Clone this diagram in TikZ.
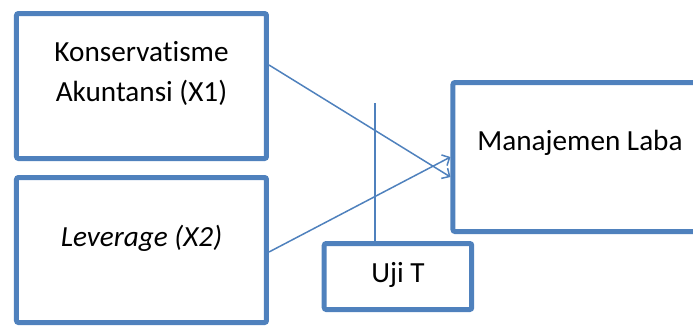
\documentclass[tikz,border=0pt]{standalone}
\usepackage{fontspec}
\setmainfont{Carlito}[Ligatures=NoCommon]
\usepackage{tikz}
\usetikzlibrary{arrows.meta, positioning, calc}
\definecolor{biruKotak}{HTML}{4F81BD}

\begin{document}
\begin{tikzpicture}[x=0.5pt, y=-0.5pt, font=\fontsize{14.6}{20}\selectfont, >=Latex,
        bx/.style={draw=biruKotak, line width=2.5pt, rounded corners=1pt,
            inner sep=0pt},
        tx/.style={align=center, inner sep=0pt},
        ar/.style={-{Straight Barb[length=3pt, width=6pt]}, biruKotak, line width=0.75pt}]
        \useasboundingbox (0,0) rectangle (693,327);
        \clip (0,0) rectangle (693,327);
        \node[bx, minimum width=125pt, minimum height=72.5pt] (kons) at (141.5,86) {};
        \node[bx, minimum width=125pt, minimum height=72.5pt] (lev) at (141.5,250) {};
        \node[bx, minimum width=127pt, minimum height=74.5pt] (laba) at (580,157) {};
        \node[bx, minimum width=73.75pt, minimum height=33pt] (uji) at (398,276.5) {};
        \node[tx] (konsTx) at ([yshift=6.5pt]kons.center) {Konservatisme\\Akuntansi (X1)};
        \node[tx] (levTx) at ([yshift=6pt]lev.center) {\textit{Leverage (X2)}};
        \node[tx] (labaTx) at ([yshift=7pt]laba.center) {Manajemen Laba};
        \node[tx] (ujiTx) at ([yshift=0.75pt]uji.center) {Uji T};
        \coordinate (ujiAtas) at (375,103);
        \draw[ar] ([yshift=10.5pt]kons.east) -- ([yshift=-10pt]laba.west);
        \draw[ar] ([yshift=-1pt]lev.east) -- (laba.west);
        \draw[biruKotak, line width=0.75pt] (ujiAtas) -- (ujiAtas |- uji.north);
    \end{tikzpicture}
\end{document}
